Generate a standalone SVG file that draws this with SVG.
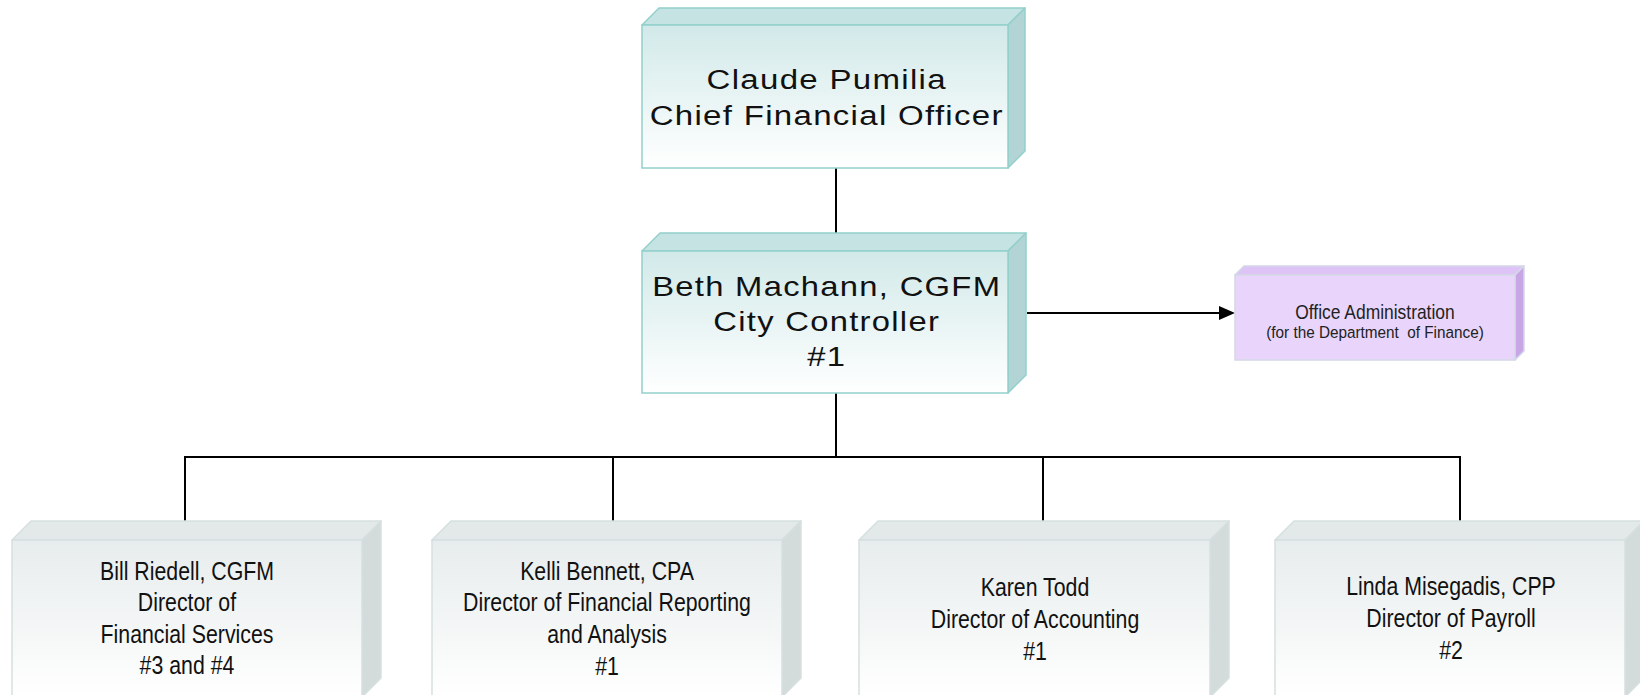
<svg xmlns="http://www.w3.org/2000/svg" width="1640" height="695" viewBox="0 0 1640 695">
<defs>
<linearGradient id="gTeal" x1="0" y1="0" x2="0" y2="1">
<stop offset="0" stop-color="#D2E9E9"/><stop offset="1" stop-color="#FFFFFF"/>
</linearGradient>
<linearGradient id="gGrey" x1="0" y1="0" x2="0" y2="1">
<stop offset="0" stop-color="#E7ECEC"/><stop offset="1" stop-color="#FFFFFF"/>
</linearGradient>
</defs>
<style>
.tealF{fill:url(#gTeal);stroke:#93D0CC;stroke-width:1.5}
.tealT{fill:#C6E3E3;stroke:#93D0CC;stroke-width:1.5;stroke-linejoin:round}
.tealS{fill:#B2D4D4;stroke:#93D0CC;stroke-width:1.5;stroke-linejoin:round}
.greyF{fill:url(#gGrey);stroke:#D6DFDF;stroke-width:1.5}
.greyT{fill:#E3E8E8;stroke:#D6DFDF;stroke-width:1.5;stroke-linejoin:round}
.greyS{fill:#D4DBDB;stroke:#D6DFDF;stroke-width:1.5;stroke-linejoin:round}
.purF{fill:#E9D5FB;stroke:#D3D7E6;stroke-width:1.5}
.purT{fill:#DEC4F6;stroke:#D3D7E6;stroke-width:1.5;stroke-linejoin:round}
.purS{fill:#C8A6E6;stroke:#D3D7E6;stroke-width:1.5;stroke-linejoin:round}
.wide{font-family:"Liberation Sans",Arial,sans-serif;font-size:28px;letter-spacing:1.1px;fill:#111;text-anchor:middle}
.narrow{font-family:"Liberation Sans",Arial,sans-serif;font-size:26px;fill:#111;text-anchor:middle}
.adm1{font-family:"Liberation Sans",Arial,sans-serif;font-size:20.5px;fill:#222;text-anchor:middle}
.adm2{font-family:"Liberation Sans",Arial,sans-serif;font-size:17px;fill:#222;text-anchor:middle}
.conn{stroke:#000;stroke-width:2;fill:none}
</style>

<g id="connectors">
<line class="conn" x1="836" y1="168" x2="836" y2="233"/>
<line class="conn" x1="836" y1="393" x2="836" y2="457"/>
<line class="conn" x1="184" y1="457" x2="1461" y2="457"/>
<line class="conn" x1="185" y1="456" x2="185" y2="521"/>
<line class="conn" x1="613" y1="456" x2="613" y2="521"/>
<line class="conn" x1="1043" y1="456" x2="1043" y2="521"/>
<line class="conn" x1="1460" y1="456" x2="1460" y2="521"/>
<line class="conn" x1="1027" y1="313" x2="1220" y2="313"/>
<polygon points="1219,306 1235,313 1219,320" fill="#000"/>
</g>

<g id="cfo">
<polygon class="tealT" points="642,25 659,8 1025,8 1008,25"/>
<polygon class="tealS" points="1008,25 1025,8 1025,151 1008,168"/>
<rect class="tealF" x="642" y="25" width="366" height="143"/>
<g transform="translate(826 0) scale(1.18 1)">
<text class="wide" x="0.6" y="89">Claude Pumilia</text>
<text class="wide" x="0.6" y="125">Chief Financial Officer</text>
</g>
</g>

<g id="controller">
<polygon class="tealT" points="642,251 660,233 1026,233 1008,251"/>
<polygon class="tealS" points="1008,251 1026,233 1026,375 1008,393"/>
<rect class="tealF" x="642" y="251" width="366" height="142"/>
<g transform="translate(826 0) scale(1.17 1)">
<text class="wide" x="0.6" y="296">Beth Machann, CGFM</text>
<text class="wide" x="0.6" y="331">City Controller</text>
<text class="wide" x="0.6" y="366">#1</text>
</g>
</g>

<g id="office-admin">
<polygon class="purT" points="1235,275 1244,266 1524,266 1515,275"/>
<polygon class="purS" points="1515,275 1524,266 1524,351 1515,360"/>
<rect class="purF" x="1235" y="275" width="280" height="85"/>
<text class="adm1" x="0" y="319" transform="translate(1375 0) scale(0.85 1)">Office Administration</text>
<text class="adm2" x="0" y="338" transform="translate(1375 0) scale(0.9 1)" xml:space="preserve">(for the Department  of Finance)</text>
</g>

<g id="financial-services">
<polygon class="greyT" points="12,540 31,521 381,521 362,540"/>
<polygon class="greyS" points="362,540 381,521 381,678 362,697"/>
<rect class="greyF" x="12" y="540" width="350" height="157"/>
<g transform="translate(187 0) scale(0.82 1)">
<text class="narrow" x="0" y="580">Bill Riedell, CGFM</text>
<text class="narrow" x="0" y="611.5">Director of</text>
<text class="narrow" x="0" y="643">Financial Services</text>
<text class="narrow" x="0" y="674">#3 and #4</text>
</g>
</g>

<g id="financial-reporting">
<polygon class="greyT" points="432,540 451,521 801,521 782,540"/>
<polygon class="greyS" points="782,540 801,521 801,678 782,697"/>
<rect class="greyF" x="432" y="540" width="350" height="157"/>
<g transform="translate(607 0) scale(0.82 1)">
<text class="narrow" x="0" y="580">Kelli Bennett, CPA</text>
<text class="narrow" x="0" y="611.5">Director of Financial Reporting</text>
<text class="narrow" x="0" y="643">and Analysis</text>
<text class="narrow" x="0" y="675">#1</text>
</g>
</g>

<g id="accounting">
<polygon class="greyT" points="859,540 878,521 1229,521 1210,540"/>
<polygon class="greyS" points="1210,540 1229,521 1229,678 1210,697"/>
<rect class="greyF" x="859" y="540" width="351" height="157"/>
<g transform="translate(1035 0) scale(0.82 1)">
<text class="narrow" x="0" y="596">Karen Todd</text>
<text class="narrow" x="0" y="628">Director of Accounting</text>
<text class="narrow" x="0" y="660">#1</text>
</g>
</g>

<g id="payroll">
<polygon class="greyT" points="1275,540 1294,521 1644,521 1625,540"/>
<polygon class="greyS" points="1625,540 1644,521 1644,678 1625,697"/>
<rect class="greyF" x="1275" y="540" width="350" height="157"/>
<g transform="translate(1451 0) scale(0.82 1)">
<text class="narrow" x="0" y="595">Linda Misegadis, CPP</text>
<text class="narrow" x="0" y="627">Director of Payroll</text>
<text class="narrow" x="0" y="659">#2</text>
</g>
</g>
</svg>
